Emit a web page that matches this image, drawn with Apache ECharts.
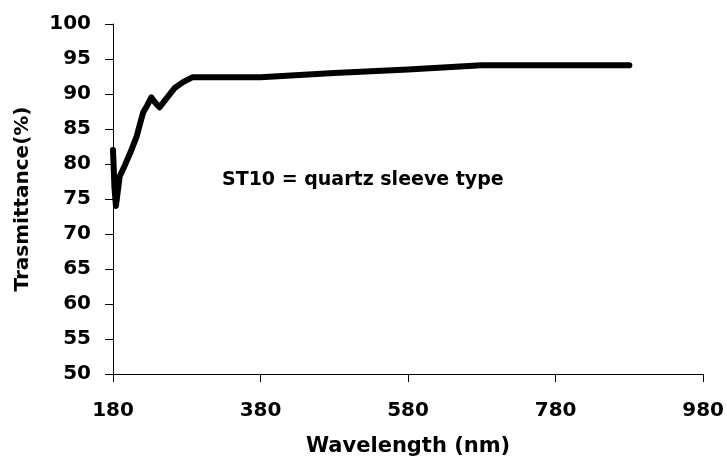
<!DOCTYPE html>
<html lang="en">
<head>
    <meta charset="UTF-8">
    <title>Transmittance</title>
    <script type="text/javascript" src="https://cdn.jsdelivr.net/npm/echarts@6/dist/echarts.min.js"></script>
    <style>
        html, body { margin: 0; padding: 0; background: #fff; }
        #main { width: 727px; height: 462px; }
    </style>
</head>
<body>
<div id="main"></div>
<script>
    // values
    const wavelength = [180, 182, 184, 189, 196, 205, 212, 216, 221, 226, 232, 237, 243, 252, 264, 275, 288, 380, 480, 580, 680, 780, 880];
    const transmit   = [82.0, 76.6, 74.0, 78.2, 79.8, 82.0, 83.9, 85.5, 87.4, 88.3, 89.5, 88.8, 88.1, 89.3, 90.9, 91.7, 92.4, 92.4, 93.0, 93.5, 94.1, 94.1, 94.1];
    const xTicks = [180, 380, 580, 780, 980];
    const yTicks = [50, 55, 60, 65, 70, 75, 80, 85, 90, 95, 100];
    const note = 'ST10 = quartz sleeve type';

    const font = 'DejaVu Sans';
    const points = wavelength.map(function (w, i) { return [w, transmit[i]]; });

    var myChart = echarts.init(document.getElementById('main'));
    var option = {
        animation: false,
        grid: {             // plot area position
            left: 113,
            top: 24,
            width: 594,
            height: 354
        },
        xAxis: {
            type: 'value',
            min: xTicks[0],
            max: xTicks[xTicks.length - 1],
            interval: 200,
            name: 'Wavelength (nm)',
            nameLocation: 'middle',
            nameGap: 62,
            nameTextStyle: { fontFamily: font, fontWeight: 'bold', fontSize: 21, color: '#000' },
            axisLine: { lineStyle: { color: '#000', width: 1 } },
            axisTick: { length: 8, lineStyle: { color: '#000' } },
            axisLabel: { margin: 27, fontFamily: font, fontWeight: 'bold', fontSize: 20, color: '#000' },
            splitLine: { show: false }
        },
        yAxis: {
            type: 'value',
            min: yTicks[0],
            max: yTicks[yTicks.length - 1],
            interval: 5,
            name: 'Trasmittance(%)',
            nameLocation: 'middle',
            nameGap: 80,
            nameTextStyle: { fontFamily: font, fontWeight: 'bold', fontSize: 20, color: '#000' },
            axisLine: { show: true, lineStyle: { color: '#000', width: 1 } },
            axisTick: { show: true, length: 8, lineStyle: { color: '#000' } },
            axisLabel: { margin: 22, fontFamily: font, fontWeight: 'bold', fontSize: 20, color: '#000' },
            splitLine: { show: false }
        },
        graphic: [{
            type: 'text',
            left: 222,
            top: 171,
            style: { text: note, font: 'bold 19px "DejaVu Sans"', fill: '#000' }
        }],
        series: [{
            type: 'line',
            data: points,
            showSymbol: false,
            lineStyle: { color: '#000', width: 6, join: 'round', cap: 'round' }
        }]
    };
    myChart.setOption(option);
</script>
</body>
</html>
